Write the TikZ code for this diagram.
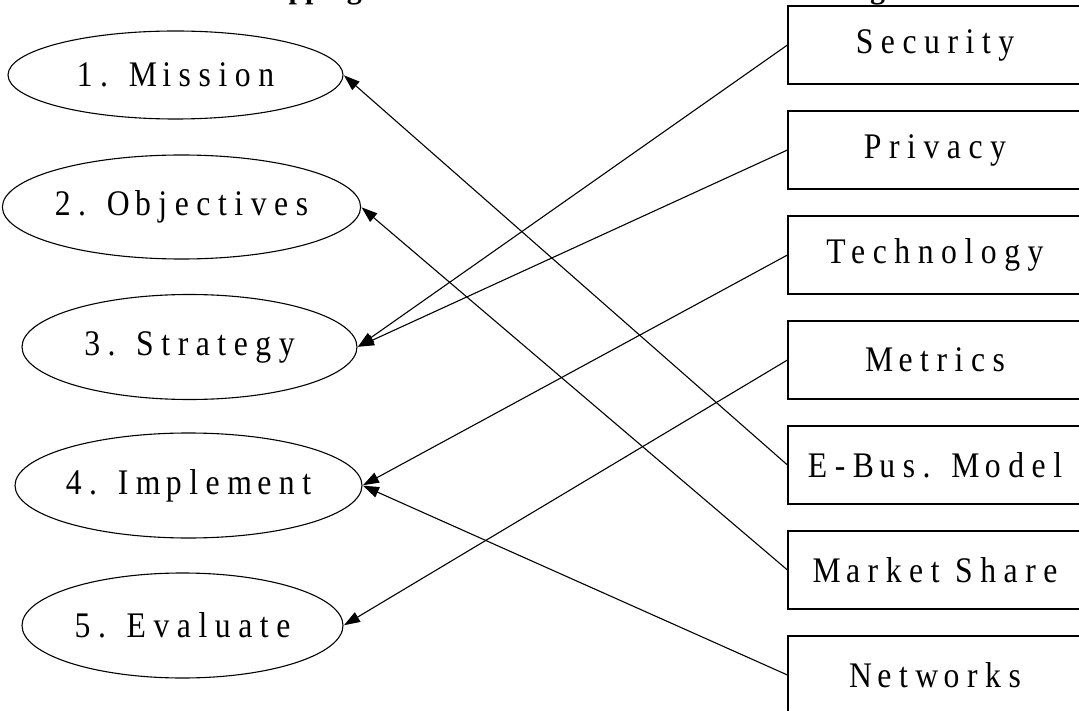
\documentclass[tikz,border=0pt]{standalone}
\usepackage{fontspec}
\setmainfont{Liberation Serif}
\newfontfamily\lblfont[LetterSpace=21,FakeStretch=0.88]{Liberation Serif}
\usetikzlibrary{shapes.geometric,arrows.meta}
% extra gap after wide glyphs
\newcommand{\xg}{\kern0.15em}
\begin{document}
\begin{tikzpicture}[x=1pt,y=-1pt,
  lbl/.style={font=\lblfont\fontsize{36}{40}\selectfont, inner sep=0pt},
  stage/.style={lbl, draw, ellipse, line width=1.1pt},
  issue/.style={lbl, draw, rectangle, line width=1.1pt, minimum width=294pt, minimum height=78pt},
  conn/.style={line width=1.1pt, -{Triangle[length=16pt,width=11pt]}, shorten >=0.5pt},
  heading/.style={font=\bfseries\fontsize{30}{34}\selectfont, inner sep=0pt, anchor=base west}]
\useasboundingbox (0,0) rectangle (1079,711);
\clip (0,0) rectangle (1079,711);

% heading, running above the top edge
\node[heading] (title) at (245,-1.5) {Mapping};
\node[heading] (title2) at (870,-1.5) {g};

% stages of the strategy cycle
\node[stage, minimum width=335pt, minimum height=88pt]  (mission)   at (175.5,75)    {1. M\xg ission};
\node[stage, minimum width=347pt, minimum height=104pt] (objective) at (181.5,207)   {2. O\xg bjectives};
\node[stage, minimum width=335pt, minimum height=105pt] (strategy)  at (189.5,347)   {3. Strategy};
\node[stage, minimum width=333pt, minimum height=105pt] (implement) at (188.5,485.5) {4. Im\xg plem\xg ent};
\node[stage, minimum width=321pt, minimum height=105pt] (evaluate)  at (182.5,625.5) {5. Evaluate};

% issues
\node[issue] (security) at (935,45)  {Security};
\node[issue] (privacy)  at (935,150) {Privacy};
\node[issue] (techno)   at (935,255) {Technology};
\node[issue] (metrics)  at (935,360) {M\xg etrics};
\node[issue] (ebus)     at (935,465) {E-B\xg us. M\xg odel};
\node[issue] (market)   at (935,570) {M\xg arket Share};
\node[issue] (networks) at (935,675) {N\xg etw\xg orks};

% links from issues to stages
\draw[conn] (security.west) -- (strategy.east);
\draw[conn] (privacy.west)  -- (strategy.east);
\draw[conn] (techno.west)   -- (implement.east);
\draw[conn] (metrics.west)  -- (evaluate.east);
\draw[conn] (ebus.west)     -- (mission.east);
\draw[conn] (market.west)   -- (objective.east);
\draw[conn] (networks.west) -- (implement.east);
\end{tikzpicture}
\end{document}
